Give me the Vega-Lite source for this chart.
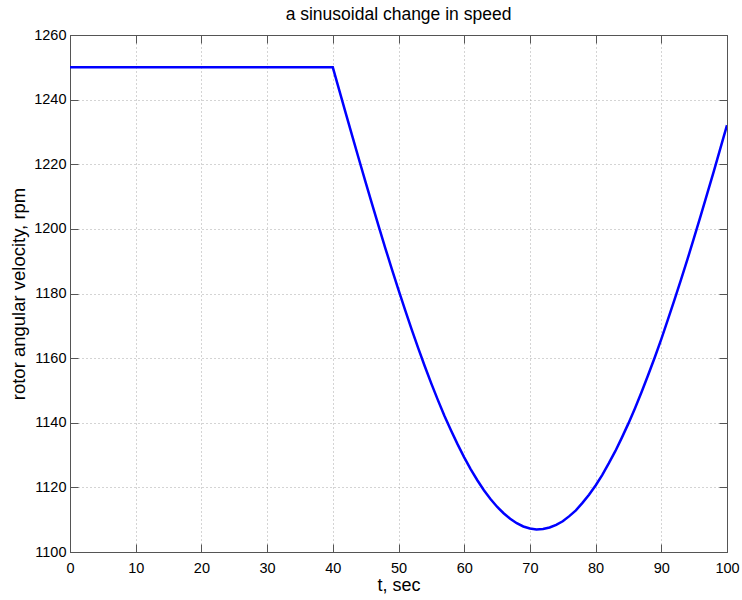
{
  "$schema": "https://vega.github.io/schema/vega-lite/v6.json",
  "autosize": {"type": "none"},
  "padding": {"left": 70, "top": 35, "right": 15, "bottom": 48},
  "width": 657,
  "height": 517,
  "background": "white",
  "title": {"text": "a sinusoidal change in speed", "font": "Liberation Sans", "fontSize": 17.5, "fontWeight": "normal", "color": "black", "offset": 4},
  "config": {
    "view": {"stroke": "#555555", "strokeWidth": 1},
    "axis": {"labelFont": "Liberation Sans", "titleFont": "Liberation Sans", "labelFontSize": 14.5, "titleFontSize": 18, "titleFontWeight": "normal", "labelColor": "black", "titleColor": "black", "domainColor": "#555555", "tickColor": "#555555", "format": "d"}
  },
  "data": {"values": [
    {"t": 0, "rpm": 1250}, {"t": 40, "rpm": 1250}, {"t": 41, "rpm": 1242.8}, {"t": 42, "rpm": 1235.6}, {"t": 43, "rpm": 1228.5}, {"t": 44, "rpm": 1221.4}, {"t": 45, "rpm": 1214.4}, {"t": 46, "rpm": 1207.5}, {"t": 47, "rpm": 1200.7}, {"t": 48, "rpm": 1194.0}, {"t": 49, "rpm": 1187.5}, {"t": 50, "rpm": 1181.1},
    {"t": 51, "rpm": 1174.9}, {"t": 52, "rpm": 1168.9}, {"t": 53, "rpm": 1163.1}, {"t": 54, "rpm": 1157.5}, {"t": 55, "rpm": 1152.1}, {"t": 56, "rpm": 1147.0}, {"t": 57, "rpm": 1142.1}, {"t": 58, "rpm": 1137.6}, {"t": 59, "rpm": 1133.3}, {"t": 60, "rpm": 1129.3},
    {"t": 61, "rpm": 1125.6}, {"t": 62, "rpm": 1122.2}, {"t": 63, "rpm": 1119.1}, {"t": 64, "rpm": 1116.4}, {"t": 65, "rpm": 1114.0}, {"t": 66, "rpm": 1112.0}, {"t": 67, "rpm": 1110.3}, {"t": 68, "rpm": 1108.9}, {"t": 69, "rpm": 1107.9}, {"t": 70, "rpm": 1107.3},
    {"t": 71, "rpm": 1107.0}, {"t": 72, "rpm": 1107.1}, {"t": 73, "rpm": 1107.6}, {"t": 74, "rpm": 1108.4}, {"t": 75, "rpm": 1109.5}, {"t": 76, "rpm": 1111.1}, {"t": 77, "rpm": 1112.9}, {"t": 78, "rpm": 1115.2}, {"t": 79, "rpm": 1117.7}, {"t": 80, "rpm": 1120.6},
    {"t": 81, "rpm": 1123.8}, {"t": 82, "rpm": 1127.4}, {"t": 83, "rpm": 1131.2}, {"t": 84, "rpm": 1135.4}, {"t": 85, "rpm": 1139.8}, {"t": 86, "rpm": 1144.5}, {"t": 87, "rpm": 1149.5}, {"t": 88, "rpm": 1154.8}, {"t": 89, "rpm": 1160.2}, {"t": 90, "rpm": 1165.9},
    {"t": 91, "rpm": 1171.9}, {"t": 92, "rpm": 1178.0}, {"t": 93, "rpm": 1184.3}, {"t": 94, "rpm": 1190.7}, {"t": 95, "rpm": 1197.4}, {"t": 96, "rpm": 1204.1}, {"t": 97, "rpm": 1211.0}, {"t": 98, "rpm": 1217.9}, {"t": 99, "rpm": 1225.0}, {"t": 100, "rpm": 1232.1}
  ]},
  "resolve": {"axis": {"x": "independent", "y": "independent"}},
  "layer": [
    {
      "mark": {"type": "line", "color": "#0000ff", "strokeWidth": 2.5, "clip": true},
      "encoding": {
        "x": {"field": "t", "type": "quantitative", "scale": {"domain": [0, 100], "nice": false, "zero": false},
          "axis": {"title": "t, sec", "values": [0,10,20,30,40,50,60,70,80,90,100], "tickSize": -8, "labelPadding": 17, "titlePadding": 2, "grid": true, "gridColor": "#a8a8a8", "gridDash": [1, 3], "gridWidth": 1, "labelFlush": false}},
        "y": {"field": "rpm", "type": "quantitative", "scale": {"domain": [1100, 1260], "nice": false, "zero": false},
          "axis": {"title": "rotor angular velocity, rpm", "titleFontSize": 18.5, "values": [1100,1120,1140,1160,1180,1200,1220,1240,1260], "tickSize": -8, "labelPadding": 12, "titlePadding": 5, "grid": true, "gridColor": "#a8a8a8", "gridDash": [1, 3], "gridWidth": 1, "labelFlush": false}}
      }
    },
    {
      "mark": {"type": "line", "opacity": 0},
      "encoding": {
        "x": {"field": "t", "type": "quantitative", "axis": {"orient": "top", "title": null, "labels": false, "values": [0,10,20,30,40,50,60,70,80,90,100], "tickSize": -8, "grid": false}},
        "y": {"field": "rpm", "type": "quantitative", "axis": {"orient": "right", "title": null, "labels": false, "values": [1100,1120,1140,1160,1180,1200,1220,1240,1260], "tickSize": -8, "grid": false}}
      }
    }
  ]
}
